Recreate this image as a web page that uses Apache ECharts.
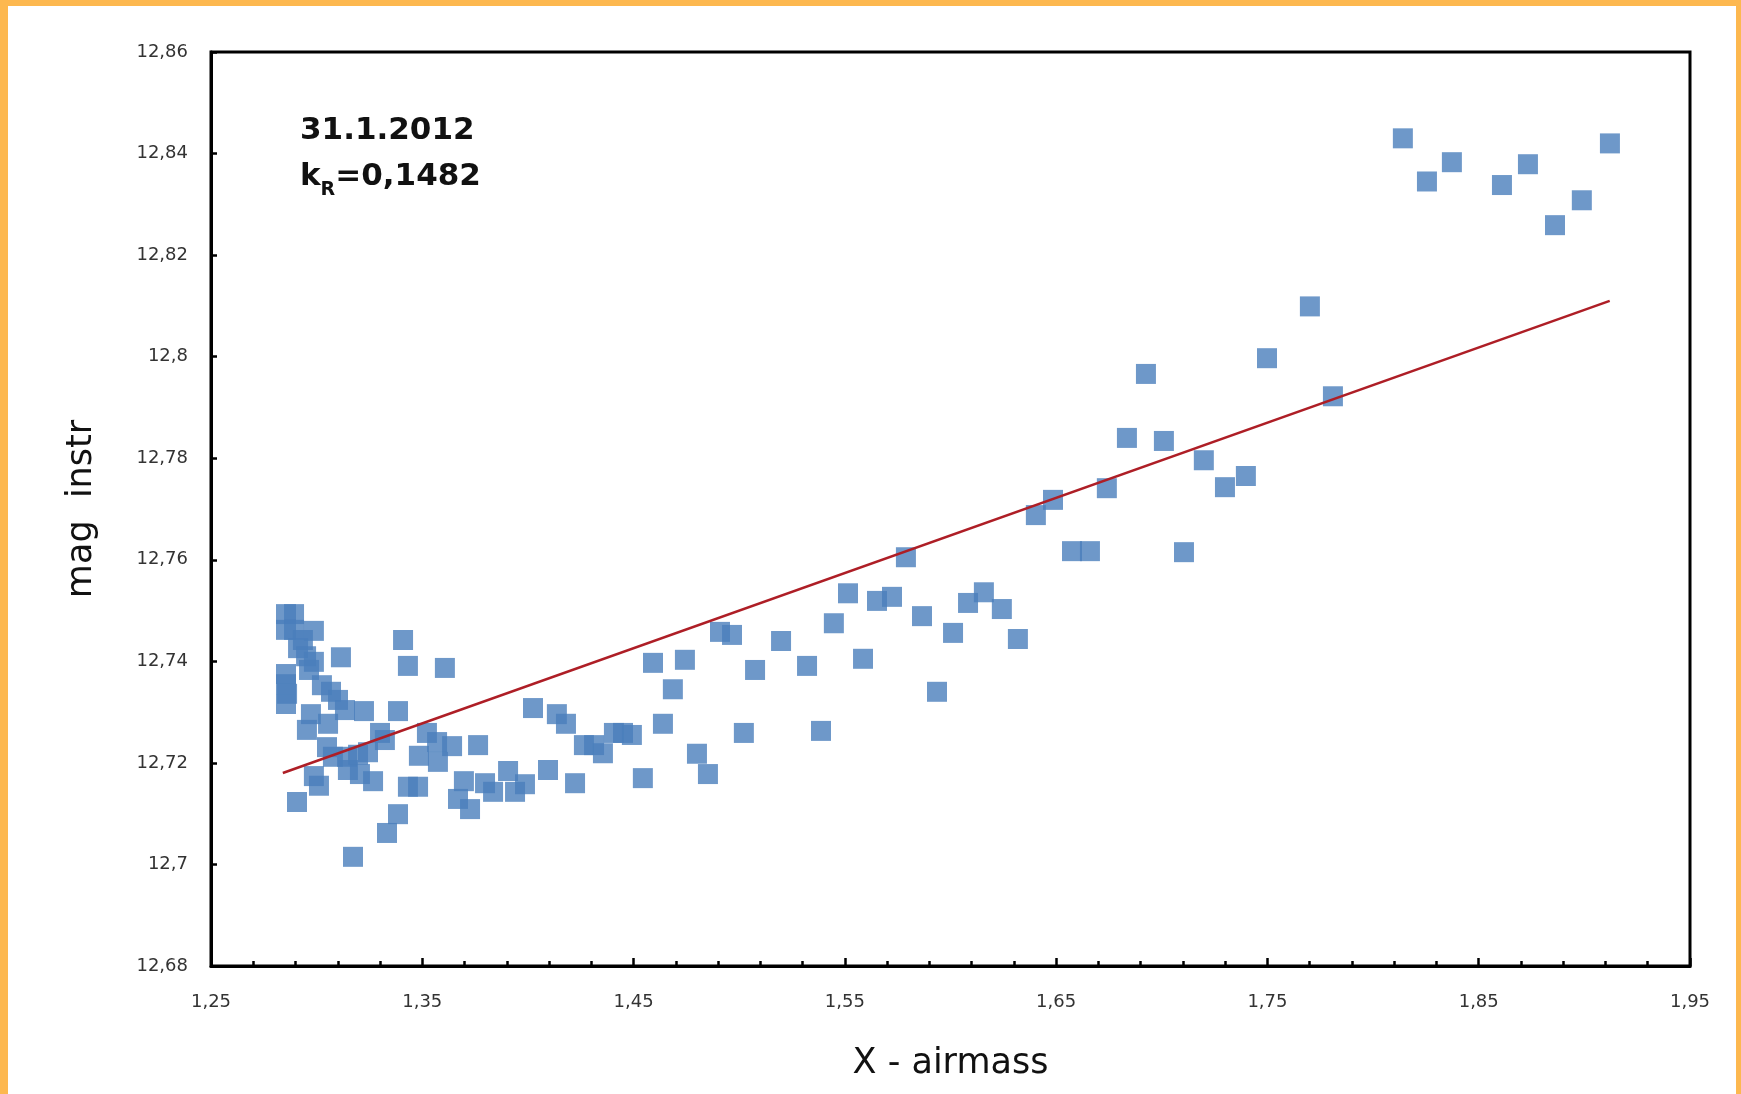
<!DOCTYPE html>
<html>
<head>
<meta charset="utf-8">
<title>Extinction 31.1.2012</title>
<script src="https://cdn.jsdelivr.net/npm/echarts@6/dist/echarts.min.js"></script>
<style>
  html, body { margin: 0; padding: 0; background: #FDB84F; }
  #chart { position: absolute; left: 8px; top: 6px; width: 1728px; height: 1088px; background: #ffffff; }
</style>
</head>
<body>
<div id="chart"></div>
<script>
// Airmass X and instrumental magnitude of each frame
const airmass = [
  1.2855, 1.2893, 1.2855, 1.2893, 1.2987, 1.2935, 1.2912, 1.2950, 1.2987, 1.2964,
  1.3115, 1.2855, 1.2855, 1.2860, 1.2855, 1.3025, 1.3068, 1.3101, 1.3134, 1.3224,
  1.2973, 1.2954, 1.3054, 1.3385, 1.3409, 1.3432, 1.3300, 1.3323, 1.3049, 1.3077,
  1.3144, 1.3196, 1.3243, 1.3148, 1.3205, 1.3267, 1.2987, 1.3011, 1.2907, 1.3432,
  1.3480, 1.3385, 1.3333, 1.3172, 1.3522, 1.3570, 1.3641, 1.3484, 1.3574, 1.3607,
  1.3764, 1.3697, 1.3669, 1.3726, 1.3797, 1.3835, 1.3906, 1.3939, 1.3986, 1.4024,
  1.4137, 1.4180, 1.4095, 1.4223, 1.4265, 1.4313, 1.4355, 1.4407, 1.4450, 1.4492,
  1.4544, 1.4592, 1.4639, 1.4686, 1.4743, 1.4800, 1.4852, 1.4909, 1.4966, 1.5022,
  1.5075, 1.5198, 1.5321, 1.5387, 1.5448, 1.5515, 1.5586, 1.5652, 1.5723, 1.5789,
  1.5865, 1.5936, 1.6012, 1.6083, 1.6158, 1.6243, 1.6319, 1.6404, 1.6485, 1.6575,
  1.6660, 1.6740, 1.6835, 1.6925, 1.7010, 1.7105, 1.7199, 1.7299, 1.7398, 1.7498,
  1.7701, 1.7810, 1.8141, 1.8255, 1.8373, 1.8610, 1.8733, 1.8861, 1.8988, 1.9121
];
const magInstr = [
  12.7493, 12.7493, 12.7462, 12.7462, 12.7460, 12.7442, 12.7426, 12.7410, 12.7399, 12.7383,
  12.7408, 12.7375, 12.7355, 12.7336, 12.7316, 12.7353, 12.7340, 12.7324, 12.7304, 12.7302,
  12.7296, 12.7265, 12.7277, 12.7302, 12.7442, 12.7391, 12.7259, 12.7245, 12.7231, 12.7212,
  12.7212, 12.7216, 12.7221, 12.7186, 12.7178, 12.7164, 12.7174, 12.7155, 12.7123, 12.7153,
  12.7153, 12.7099, 12.7062, 12.7015, 12.7259, 12.7241, 12.7233, 12.7214, 12.7202, 12.7387,
  12.7235, 12.7164, 12.7129, 12.7109, 12.7160, 12.7143, 12.7184, 12.7143, 12.7158, 12.7308,
  12.7296, 12.7277, 12.7186, 12.7160, 12.7235, 12.7235, 12.7219, 12.7259, 12.7259, 12.7255,
  12.7170, 12.7397, 12.7277, 12.7345, 12.7403, 12.7218, 12.7178, 12.7458, 12.7452, 12.7259,
  12.7383, 12.7440, 12.7391, 12.7263, 12.7475, 12.7534, 12.7405, 12.7519, 12.7527, 12.7605,
  12.7489, 12.7340, 12.7456, 12.7515, 12.7536, 12.7503, 12.7444, 12.7688, 12.7718, 12.7617,
  12.7617, 12.7741, 12.7840, 12.7966, 12.7834, 12.7615, 12.7796, 12.7743, 12.7765, 12.7997,
  12.8099, 12.7922, 12.8430, 12.8345, 12.8383, 12.8338, 12.8379, 12.8259, 12.8308, 12.8420
];

// Linear fit (slope k_R = 0,1482), drawn between the first and last airmass
const fitAirmass = [1.284, 1.912];
const fitMag = [12.718, 12.811];

// Axis ticks
const xTicks = [1.25, 1.35, 1.45, 1.55, 1.65, 1.75, 1.85, 1.95];
const xMinorTicks = [
  1.25, 1.27, 1.29, 1.31, 1.33, 1.35, 1.37, 1.39, 1.41, 1.43, 1.45, 1.47,
  1.49, 1.51, 1.53, 1.55, 1.57, 1.59, 1.61, 1.63, 1.65, 1.67, 1.69, 1.71,
  1.73, 1.75, 1.77, 1.79, 1.81, 1.83, 1.85, 1.87, 1.89, 1.91, 1.93, 1.95
];
const yTicks = [12.68, 12.70, 12.72, 12.74, 12.76, 12.78, 12.80, 12.82, 12.84, 12.86];

const dateLabel = '31.1.2012';
const kLabel = '0,1482';

const FONT = 'DejaVu Sans';
const commaNum = (v, d) => String(+v.toFixed(d)).replace('.', ',');

const points = airmass.map((x, i) => [x, magInstr[i]]);
const fitLine = fitAirmass.map((x, i) => [x, fitMag[i]]);

const chart = echarts.init(document.getElementById('chart'), null, { renderer: 'canvas' });

chart.setOption({
  animation: false,
  backgroundColor: '#ffffff',
  grid: {
    left: 203, right: 46, top: 46, bottom: 128,
    show: true, borderColor: '#000', borderWidth: 3, backgroundColor: 'transparent'
  },
  xAxis: [
    {
      type: 'value', min: 1.25, max: 1.95, position: 'bottom',
      axisLine: { lineStyle: { color: '#000', width: 3 } },
      axisTick: { inside: true, length: 5, customValues: xMinorTicks, lineStyle: { color: '#000', width: 2.5 } },
      axisLabel: {
        customValues: xTicks, margin: 27,
        formatter: v => v.toFixed(2).replace('.', ','),
        fontFamily: FONT, fontSize: 18, color: '#333'
      },
      splitLine: { show: false },
      name: 'X - airmass', nameLocation: 'middle', nameGap: 80,
      nameTextStyle: { fontFamily: FONT, fontSize: 35, color: '#111' }
    },
    {
      type: 'value', min: 1.25, max: 1.95, position: 'bottom',
      axisLine: { show: false },
      axisTick: { inside: true, length: 8, customValues: xTicks, lineStyle: { color: '#000', width: 2.5 } },
      axisLabel: { show: false },
      splitLine: { show: false }
    }
  ],
  yAxis: {
    type: 'value', min: 12.68, max: 12.86,
    axisLine: { show: true, lineStyle: { color: '#000', width: 3 } },
    axisTick: { show: true, inside: true, length: 6, customValues: yTicks, lineStyle: { color: '#000', width: 2.5 } },
    axisLabel: {
      customValues: yTicks, margin: 23,
      formatter: v => commaNum(v, 2),
      fontFamily: FONT, fontSize: 18, color: '#333'
    },
    splitLine: { show: false },
    name: 'mag  instr', nameLocation: 'middle', nameGap: 112, nameRotate: 90,
    nameTextStyle: { fontFamily: FONT, fontSize: 35, color: '#111' }
  },
  graphic: [
    {
      type: 'text', left: 292, top: 109, z: 10,
      style: {
        text: '{a|' + dateLabel + '}\n{a|k}{s|R}{a|=' + kLabel + '}',
        rich: {
          a: { fontFamily: FONT, fontWeight: 'bold', fontSize: 31, lineHeight: 46, fill: '#111' },
          s: { fontFamily: FONT, fontWeight: 'bold', fontSize: 19, lineHeight: 20, verticalAlign: 'bottom', fill: '#111' }
        }
      }
    }
  ],
  series: [
    {
      type: 'scatter', name: 'mag instr', data: points,
      symbol: 'rect', symbolSize: 20,
      itemStyle: { color: '#4A7EBB' }, z: 2
    },
    {
      type: 'line', name: 'fit', data: fitLine,
      symbol: 'none', lineStyle: { color: '#AE1E26', width: 2.5 }, z: 3
    }
  ]
});
</script>
</body>
</html>
